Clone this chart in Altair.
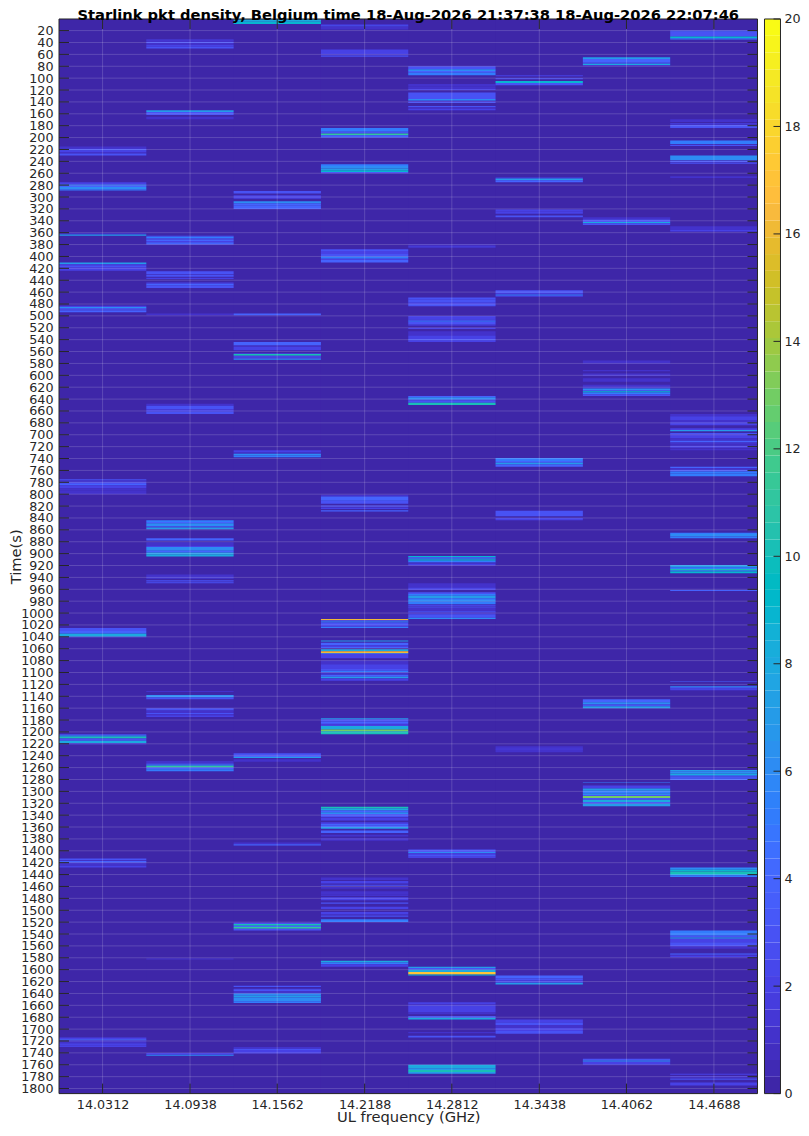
import altair as alt
import pandas as pd

title_text = "Starlink pkt density, Belgium time 18-Aug-2026 21:37:38 18-Aug-2026 22:07:46"
freq_ticks = [14.0312, 14.0938, 14.1562, 14.2188, 14.2812, 14.3438, 14.4062, 14.4688]
freq_edges = [14.0, 14.0625, 14.125, 14.1875, 14.25, 14.3125, 14.375, 14.4375, 14.5]
time_ticks = list(range(20, 1801, 20))
time_domain = [0.5, 1808.5]
cbar_ticks = [0, 2, 4, 6, 8, 10, 12, 14, 16, 18, 20]

parula = """0.2422 0.1504 0.6603;0.2504 0.1650 0.7076;0.2578 0.1818 0.7511;0.2647 0.1978 0.7952;
0.2706 0.2147 0.8364;0.2751 0.2342 0.8710;0.2783 0.2559 0.8991;0.2803 0.2782 0.9221;0.2813 0.3006 0.9414;
0.2810 0.3228 0.9579;0.2795 0.3447 0.9717;0.2760 0.3667 0.9829;0.2699 0.3892 0.9906;0.2602 0.4123 0.9952;
0.2440 0.4358 0.9988;0.2206 0.4603 0.9973;0.1963 0.4847 0.9892;0.1834 0.5074 0.9798;0.1786 0.5289 0.9682;
0.1764 0.5499 0.9520;0.1687 0.5703 0.9359;0.1540 0.5902 0.9218;0.1460 0.6091 0.9079;0.1380 0.6276 0.8973;
0.1248 0.6459 0.8883;0.1113 0.6635 0.8763;0.0952 0.6798 0.8598;0.0689 0.6948 0.8394;0.0297 0.7082 0.8163;
0.0036 0.7203 0.7917;0.0067 0.7312 0.7660;0.0433 0.7411 0.7394;0.0964 0.7500 0.7120;0.1408 0.7584 0.6842;
0.1717 0.7670 0.6554;0.1938 0.7758 0.6251;0.2161 0.7843 0.5923;0.2470 0.7918 0.5567;0.2906 0.7973 0.5188;
0.3406 0.8008 0.4789;0.3909 0.8029 0.4354;0.4456 0.8024 0.3909;0.5044 0.7993 0.3480;0.5616 0.7942 0.3045;
0.6174 0.7876 0.2612;0.6720 0.7793 0.2227;0.7242 0.7698 0.1910;0.7738 0.7598 0.1646;0.8203 0.7498 0.1535;
0.8634 0.7406 0.1596;0.9035 0.7330 0.1774;0.9393 0.7288 0.2100;0.9728 0.7298 0.2394;0.9956 0.7434 0.2371;
0.9970 0.7659 0.2199;0.9952 0.7893 0.2028;0.9892 0.8136 0.1885;0.9786 0.8386 0.1766;0.9676 0.8639 0.1643;
0.9610 0.8890 0.1537;0.9597 0.9135 0.1423;0.9628 0.9373 0.1265;0.9691 0.9606 0.1064;0.9769 0.9839 0.0805"""
palette = []
for row in parula.replace("\n", "").split(";"):
    r, g, b = [round(float(v) * 255) for v in row.split()]
    palette.append(f"#{r:02x}{g:02x}{b:02x}")

# (start s, end s, packet density)
col0 = [(215,219,1),(219,222,3),(222,225,2),(225,227,1),(227,230,3),
        (275,279,2),(279,281,5),(281,283,4),(283,287,6),(287,289,5),
        (361,363,1),(363,365,7),(410,413,7),(413,416,2),(416,418,3),(418,421,2),(421,424,2),
        (483,485,2),(485,487,6),(487,489,4),(489,491,3),(491,494,4),
        (775,777,3),(777,780,1),(780,783,3),(783,785,4),(785,790,2),(790,794,1),(794,800,1),
        (1025,1030,3),(1030,1034,4),(1034,1035,5),(1035,1040,8),(1040,1041,1),
        (1204,1206,3),(1206,1208,7),(1208,1211,10),(1211,1215,3),(1215,1219,8),(1219,1221,1),
        (1413,1416,3),(1416,1417,1),(1417,1420,4),(1420,1425,1),(1425,1428,2),
        (1714,1717,2),(1717,1719,4),(1719,1724,1),(1724,1727,2),(1727,1730,2)]
col1 = [(35,37,2),(37,39,1),(39,41,3),(41,44,1),(44,47,2),(47,50,3),
        (154,157,7),(157,162,3),(165,169,1),
        (365,367,3),(367,370,5),(370,372,3),(372,374,4),(374,376,2),(376,380,4),
        (425,430,3),(431,434,3),(436,438,2),(444,446,2),(446,449,4),(449,453,3),
        (496,499,1),(648,651,1),(651,657,3),(657,661,2),(661,665,3),
        (844,847,5),(847,849,4),(849,854,6),(854,856,3),(856,859,7),
        (874,878,4),(881,887,1),(887,889,2),(889,895,6),(895,898,4),(898,901,7),(901,905,8),
        (935,940,1),(940,942,2),(945,947,3),(948,950,3),
        (1131,1133,1),(1138,1142,6),(1142,1145,3),
        (1160,1164,3),(1164,1168,1),(1168,1170,3),(1170,1172,1),(1172,1175,2),
        (1249,1253,1),(1253,1255,3),(1255,1257,5),(1257,1260,11),(1260,1263,4),(1263,1266,5),
        (1581,1583,1),(1740,1743,2),(1743,1745,6)]
col2 = [(1,5,8),(5,9,9),
        (290,294,3),(297,303,2),(307,311,6),(311,314,4),(314,320,4),
        (496,499,4),
        (544,550,4),(550,552,1),(552,558,2),(563,564,2),(564,567,10),(567,570,2),(570,572,3),(572,574,6),
        (726,730,2),(730,732,1),(732,735,6),(735,738,5),
        (1236,1240,3),(1240,1242,4),(1242,1244,7),(1246,1250,1),
        (1386,1389,1),(1389,1391,4),
        (1521,1523,3),(1523,1526,10),(1526,1528,4),(1528,1531,11),(1531,1534,3),
        (1627,1629,3),(1632,1633,2),(1633,1636,3),(1636,1640,1),(1640,1644,6),(1644,1647,7),(1647,1653,6),(1653,1656,5),
        (1730,1733,1),(1733,1735,3),(1735,1741,2)]
col3 = [(9,11,1),(11,13,3),(13,18,1),(52,60,2),(60,62,1),(62,64,3),
        (184,190,5),(190,193,3),(193,196,11),(196,200,4),
        (245,248,5),(248,252,6),(252,255,7),(255,258,9),(258,260,3),
        (388,391,3),(391,396,2),(396,400,3),(400,404,5),(404,406,2),(406,410,4),
        (801,804,1),(804,811,4),(811,816,3),(819,821,3),(821,823,1),(823,825,2),(827,829,4),
        (1010,1012,16),(1012,1014,3),(1014,1016,6),(1016,1020,3),(1020,1023,2),(1023,1025,5),
        (1046,1048,7),(1050,1054,4),(1054,1057,2),(1057,1059,4),(1061,1064,8),(1064.2,1067.6,16),(1067.6,1069,5),(1069,1076,2),
        (1080,1086,1),(1086,1094,2),(1094,1097,3),(1097,1100,5),(1100,1104,1),(1104,1107,4),(1107,1110,7),(1110,1111,1),(1111,1114,2),
        (1177,1179,7),(1179,1183,3),(1183,1185,4),(1185,1187,3),(1187,1190,2),(1190,1195,8),(1195,1196,9),(1196,1199,13),(1199,1204,10),
        (1326,1329,10),(1329,1332,8),(1332,1335,4),(1335,1338,6),(1338,1343,3),(1343,1345,1),(1345,1349,2),(1352,1355,2),(1355,1358,4),(1358,1360,4),
        (1360,1363,7),(1366,1370,4),(1373,1376,1),(1379,1383,1),
        (1445,1449,1),(1451,1455,2),(1457,1459,3),(1461,1464,1),(1468,1473,1),(1473,1476,1),(1478,1483,2),(1487,1489,3),(1494,1498,2),(1503,1507,2),(1509,1511,3),(1515,1520,5),
        (1585,1588,8),(1588,1591,5),(1591,1595,2)]
col4 = [(80,85,3),(85,88,6),(88,91,4),(91,95,5),
        (110,114,1),(114,118,1),(118,120,2),
        (124,135,3),(135,138,6),(138,140,1),(140,142,3),(147,149,3),(149,152,1),(152,154,2),
        (380,382,1),(383,385,2),
        (469,473,3),(473,478,3),(478,480,2),(480,484,3),
        (500,506,2),(506,508,3),(508,510,5),(510,515,3),(515,517,1),(520,522,2),(526,533,1),(533,539,2),(539,542,3),(542,544,2),
        (635,637,4),(637,641,6),(641,643,3),(643,646,3),(646,650,10),
        (904,906,9),(906,908,4),(908,910,6),(910,912,9),(912,915,5),(915,917,1),(917,920,2),
        (950,957,1),(957,961,2),(965,968,3),(968,971,5),(971,975,7),(975,978,5),(978,981,6),(981,985,5),(986,988,2),(989,991,3),(991,997,1),(997,999,3),(999,1002,1),(1002,1008,3),(1008,1010,6),
        (1398,1402,3),(1402,1404,6),(1404,1407,2),(1407,1410,3),(1410,1412,2),
        (1595,1597,7),(1597,1600,3),(1600,1604,8),(1604,1608,17),(1608,1610,9),
        (1655,1658,2),(1658,1660,1),(1660,1672,2),(1672,1675,1),(1678,1681,3),(1681,1684,8),
        (1705,1707,1),(1711,1714,3),
        (1760,1766,8),(1766,1769,7),(1769,1772,10),(1772,1775,7)]
col5 = [(95,97,2),(100,102,3),(105,108,9),(108,112,3),
        (267,269,2),(269,272,7),(272,275,4),
        (321,325,2),(325,328,2),(331,334,3),
        (457,462,3),(462,464,2),(464,466,5),(466,468,2),
        (739,744,5),(744,747,4),(747,750,7),(750,754,4),
        (828,837,3),(840,844,2),
        (1224,1228,1),(1228,1230,2),(1230,1234,1),
        (1610,1615,4),(1615,1618,3),(1618,1622,2),(1622,1625,7),
        (1684,1689,2),(1689,1693,3),(1693,1698,1),(1698,1703,2),(1703,1708,3)]
col6 = [(65,68,7),(68,74,4),(74,76,3),(76,78,8),(78,80,1),
        (334,338,1),(338,342,3),(342,344,8),(344,347,3),
        (575,580,1),(591,593,1),(597,601,1),(605,611,1),(616,622,1),(622,625,6),(625,627,4),(627,629,9),(629,632,5),(632,635,3),
        (1145,1150,4),(1150,1154,6),(1154,1157,3),(1157,1160,7),
        (1285,1286,5),(1290,1295,2),(1295,1299,7),(1299,1303,5),(1303,1306,6),(1306,1308,3),(1308,1311,13),(1311,1314,3),(1314,1318,8),(1318,1321,3),(1321,1325,7),
        (1750,1753,3),(1753,1755,6),(1755,1760,2)]
col7 = [(20,22,4),(22,30,3),(30,33,9),(33,35,5),
        (169,174,1),(176,178,2),(179,184,3),
        (205,211,5),(212,214,3),(230,238,6),(239,241,3),(242,244,3),(265,268,1),
        (349,355,1),(355,358,2),
        (665,669,1),(669,675,2),(675,679,1),(679,684,2),(689,692,2),(692,694,7),(697,699,3),(699,706,2),(706,710,1),(710,713,4),(713,717,1),(718,722,2),(723,726,1),
        (754,756,4),(756,759,1),(759,762,3),(762,765,5),(765,770,5),
        (865,867,5),(867,871,6),(871,874,5),
        (919,923,7),(923,926,5),(926,928,10),(928,930,6),(930,933,9),
        (961,963,4),(1115,1116,4),(1123,1125,6),(1125,1127,4),(1127,1130,2),
        (1264,1266,7),(1266,1270,6),(1270,1273,8),(1273,1275,5),(1275,1278,3),(1278,1281,4),
        (1428,1432,6),(1432,1435,9),(1435,1439,10),(1439,1441,8),(1441,1444,5),
        (1534,1543,5),(1543,1546,3),(1546,1548,7),(1548,1554,2),(1554,1560,3),(1560,1565,1),
        (1573,1575,4),(1575,1577,1),(1577,1579,2),
        (1775,1777,2),(1779,1782,1),(1783,1785,3),(1790,1795,2)]
columns = [col0, col1, col2, col3, col4, col5, col6, col7]

rows = []
for i in range(8):
    rows.append(dict(f0=freq_edges[i], f1=freq_edges[i + 1], t0=time_domain[0], t1=time_domain[1], v=0))
for i, bursts in enumerate(columns):
    for t0, t1, v in bursts:
        rows.append(dict(f0=freq_edges[i], f1=freq_edges[i + 1], t0=t0, t1=t1, v=v))
cells = pd.DataFrame(rows)

PW, PH = 698.5, 1074.6
INK = "#262626"
FONT = "DejaVu Sans"
LABEL = 12.7
AXT = 14.7

xs = alt.Scale(domain=[14.0, 14.5], nice=False, zero=False)
ys = alt.Scale(domain=time_domain, reverse=True, nice=False, zero=False)
cs = alt.Scale(type="quantize", domain=[0, 20], range=palette)
xa = alt.Axis(values=freq_ticks, format=".4f", title="UL frequency (GHz)", grid=False, ticks=False,
              domain=False, labelPadding=5, labelFontSize=LABEL, titleFontSize=AXT, titleFontWeight="normal",
              labelColor=INK, titleColor=INK, labelFont=FONT, titleFont=FONT, titlePadding=-2, labelOverlap=False)
ya = alt.Axis(values=time_ticks, format="d", title="Time(s)", grid=False, ticks=False,
              domain=False, labelPadding=6, labelFontSize=LABEL, titleFontSize=AXT, titleFontWeight="normal",
              labelColor=INK, titleColor=INK, labelFont=FONT, titleFont=FONT, titlePadding=-3, labelOverlap=False,
              labelBound=False)

heat = alt.Chart(cells).mark_rect(strokeWidth=0).encode(
    x=alt.X("f0:Q", scale=xs, axis=xa),
    x2="f1:Q",
    y=alt.Y("t0:Q", scale=ys, axis=ya),
    y2="t1:Q",
    color=alt.Color("v:Q", scale=cs, legend=None),
)

tdf = pd.DataFrame({"t": time_ticks})
fdf = pd.DataFrame({"f": freq_ticks})
grid_h = alt.Chart(tdf).mark_rule(color="white", opacity=0.17, strokeWidth=1).encode(
    y=alt.Y("t:Q", scale=ys, axis=ya))
grid_v = alt.Chart(fdf).mark_rule(color="white", opacity=0.17, strokeWidth=1).encode(
    x=alt.X("f:Q", scale=xs, axis=xa))
tick_l = alt.Chart(tdf).mark_rule(color=INK, strokeWidth=1).encode(
    y=alt.Y("t:Q", scale=ys, axis=ya), x=alt.value(0), x2=alt.value(10))
tick_r = alt.Chart(tdf).mark_rule(color=INK, strokeWidth=1).encode(
    y=alt.Y("t:Q", scale=ys, axis=ya), x=alt.value(PW - 10), x2=alt.value(PW))
tick_t = alt.Chart(fdf).mark_rule(color=INK, strokeWidth=1).encode(
    x=alt.X("f:Q", scale=xs, axis=xa), y=alt.value(0), y2=alt.value(10))
tick_b = alt.Chart(fdf).mark_rule(color=INK, strokeWidth=1).encode(
    x=alt.X("f:Q", scale=xs, axis=xa), y=alt.value(PH - 10), y2=alt.value(PH))
frame_h = alt.Chart(pd.DataFrame({"t": time_domain})).mark_rule(color=INK, strokeWidth=1).encode(
    y=alt.Y("t:Q", scale=ys, axis=ya))
frame_v = alt.Chart(pd.DataFrame({"f": [14.0, 14.5]})).mark_rule(color=INK, strokeWidth=1).encode(
    x=alt.X("f:Q", scale=xs, axis=xa))

main = alt.layer(heat, grid_h, grid_v, tick_l, tick_r, tick_t, tick_b, frame_h, frame_v)

levels = pd.DataFrame({
    "lo": [i * 20 / len(palette) for i in range(len(palette))],
    "hi": [(i + 1) * 20 / len(palette) for i in range(len(palette))],
    "mid": [(i + 0.5) * 20 / len(palette) for i in range(len(palette))],
})
CX0 = PW + 7
CX1 = CX0 + 16
bs = alt.Scale(domain=[0, 20], nice=False, zero=False)
ba = alt.Axis(values=cbar_ticks, orient="right", offset=CX1 - PW, title=None, grid=False, ticks=False, domain=False,
              labelPadding=3.5, labelFontSize=LABEL, labelColor=INK, labelFont=FONT, labelBound=False, labelOverlap=False)
bar = alt.Chart(levels).mark_rect(strokeWidth=0).encode(
    x=alt.value(CX0), x2=alt.value(CX1),
    y=alt.Y("lo:Q", scale=bs, axis=ba),
    y2="hi:Q",
    color=alt.Color("mid:Q", scale=cs, legend=None),
)
bar_ticks = alt.Chart(pd.DataFrame({"v": cbar_ticks})).mark_rule(color=INK, strokeWidth=1).encode(
    y=alt.Y("v:Q", scale=bs, axis=ba), x=alt.value(CX1 - 7), x2=alt.value(CX1))
bar_frame_h = alt.Chart(pd.DataFrame({"v": [0, 20]})).mark_rule(color=INK, strokeWidth=1).encode(
    y=alt.Y("v:Q", scale=bs, axis=ba), x=alt.value(CX0), x2=alt.value(CX1))
bar_frame_l = alt.Chart(pd.DataFrame({"k": [0]})).mark_rule(color=INK, strokeWidth=1).encode(
    x=alt.value(CX0), y=alt.value(0), y2=alt.value(PH))
bar_frame_r = alt.Chart(pd.DataFrame({"k": [0]})).mark_rule(color=INK, strokeWidth=1).encode(
    x=alt.value(CX1), y=alt.value(0), y2=alt.value(PH))
cbar = alt.layer(bar, bar_ticks, bar_frame_h, bar_frame_l, bar_frame_r)

chart = alt.layer(main, cbar).resolve_scale(y="independent", color="shared").properties(
    width=PW, height=PH,
    padding={"left": 51, "top": 11, "right": 43.5, "bottom": 33},
    autosize=alt.AutoSizeParams(type="none"),
    background="white",
    title=alt.TitleParams(title_text, fontSize=14.7, fontWeight="bold", font=FONT, color="black",
                          anchor="middle", offset=0, dy=10),
).configure_view(stroke=None, fill="#3e26a8")

chart.save("out.html", embed_options={"renderer": "svg", "actions": False})
